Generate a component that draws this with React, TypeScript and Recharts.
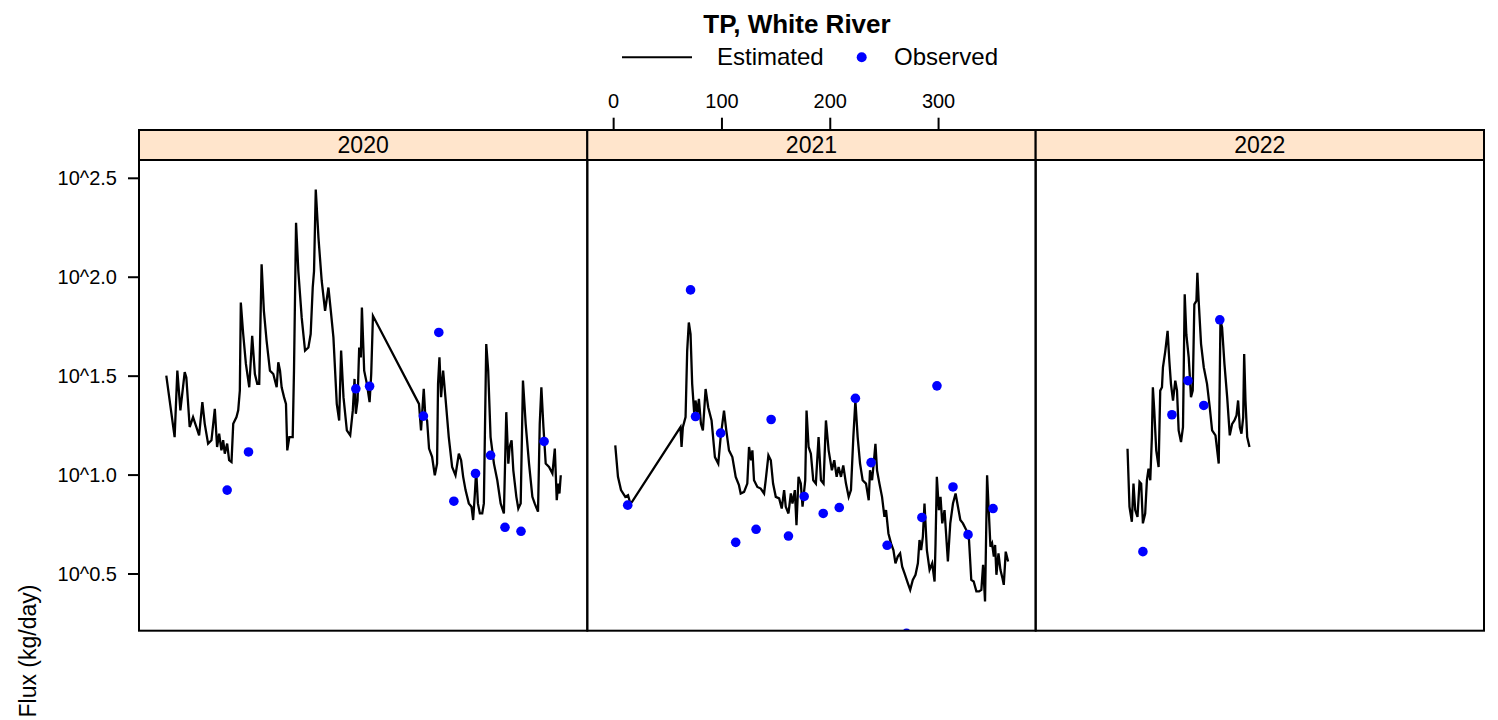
import React from 'react';
import { ComposedChart, Line, Scatter, XAxis, YAxis } from 'recharts';

// ---- data (day of year, log10 flux in kg/day) ----
const years = ['2020', '2021', '2022'];
const dayTicks = [0, 100, 200, 300];
const logTicks = [0.5, 1.0, 1.5, 2.0, 2.5];

const est2020: [number, number][] = [
  [0.6, 1.503], [8.3, 1.192], [10.8, 1.528], [13.6, 1.327], [17.6, 1.52], [19.1, 1.494], [22.2, 1.243],
  [25.3, 1.293], [28.4, 1.243], [30.9, 1.201], [33.9, 1.369], [36.1, 1.259], [39.2, 1.159], [42.3, 1.176],
  [45.4, 1.335], [47.5, 1.142], [49.4, 1.209], [51.5, 1.125], [53.1, 1.176], [54.6, 1.108], [56.8, 1.159],
  [58.6, 1.075], [60.8, 1.066], [62.4, 1.259], [65.4, 1.293], [67.0, 1.327], [68.5, 1.427], [69.4, 1.872],
  [71.6, 1.713], [74.1, 1.562], [77.2, 1.444], [79.9, 1.704], [82.4, 1.511], [84.6, 1.461], [86.4, 1.461],
  [88.6, 2.065], [90.7, 1.83], [93.2, 1.679], [96.3, 1.528], [99.4, 1.511], [102.5, 1.444], [104.0, 1.57],
  [105.6, 1.528], [107.1, 1.444], [109.3, 1.394], [111.1, 1.36], [112.3, 1.125], [114.2, 1.192], [117.3, 1.192],
  [118.5, 1.528], [120.4, 2.275], [122.5, 2.031], [125.6, 1.797], [128.7, 1.629], [131.8, 1.645], [133.9, 1.713],
  [135.8, 1.948], [137.0, 2.031], [138.6, 2.443], [141.1, 2.199], [144.1, 1.981], [147.2, 1.83], [150.3, 1.948],
  [152.5, 1.83], [154.9, 1.696], [158.0, 1.36], [160.2, 1.276], [162.0, 1.629], [164.2, 1.394], [167.3, 1.226],
  [170.4, 1.201], [172.8, 1.327], [174.4, 1.486], [175.6, 1.31], [177.2, 1.377], [178.7, 1.645], [180.2, 1.595],
  [181.2, 1.847], [183.3, 1.528], [185.8, 1.461], [188.3, 1.369], [189.8, 1.511], [191.4, 1.805], [233.9, 1.36],
  [235.8, 1.226], [238.3, 1.436], [239.8, 1.293], [241.4, 1.276], [243.2, 1.134], [246.0, 1.092], [248.5, 0.999],
  [250.6, 1.058], [251.5, 1.461], [252.8, 1.595], [254.3, 1.394], [256.2, 1.528], [258.3, 1.394], [261.4, 1.192],
  [264.5, 1.041], [267.6, 0.999], [270.7, 1.108], [272.8, 1.075], [274.7, 0.991], [276.9, 0.924], [279.9, 0.857],
  [282.4, 0.84], [283.9, 0.773], [285.5, 0.907], [286.7, 1.024], [288.3, 0.857], [290.1, 0.806], [292.3, 0.806],
  [293.8, 0.857], [296.0, 1.662], [297.8, 1.528], [300.0, 1.192], [303.1, 1.058], [306.2, 0.974], [309.3, 0.857],
  [312.3, 0.806], [314.5, 1.318], [316.4, 1.058], [317.6, 1.142], [319.4, 1.176], [321.0, 1.024], [323.8, 0.89],
  [325.6, 0.831], [327.8, 0.857], [329.9, 1.478], [332.4, 1.259], [335.5, 1.058], [338.6, 0.89], [340.7, 0.857],
  [343.8, 0.815], [345.4, 1.259], [346.9, 1.444], [348.8, 1.243], [350.9, 1.058], [354.0, 1.041], [357.1, 1.008],
  [359.3, 1.134], [361.1, 0.873], [362.4, 0.957], [363.6, 0.907], [364.8, 0.999],
];
const obs2020: [number, number][] = [
  [56.8, 0.924], [76.5, 1.117], [175.6, 1.436], [188.3, 1.449], [238.0, 1.298], [252.2, 1.721],
  [266.1, 0.868], [286.1, 1.008], [300.0, 1.1], [313.3, 0.736], [328.1, 0.716], [349.4, 1.17],
];

const est2021: [number, number][] = [
  [1.5, 1.15], [4.0, 0.991], [6.8, 0.924], [10.8, 0.89], [13.3, 0.898], [15.4, 0.856], [17.0, 0.865],
  [61.7, 1.242], [62.7, 1.142], [63.9, 1.242], [66.4, 1.293], [67.9, 1.628], [69.4, 1.771], [71.0, 1.712],
  [72.5, 1.461], [74.4, 1.31], [75.6, 1.377], [77.2, 1.31], [78.7, 1.385], [80.6, 1.259], [82.4, 1.226],
  [84.9, 1.435], [87.3, 1.343], [90.4, 1.276], [93.5, 1.091], [96.6, 1.058], [98.8, 1.192], [101.9, 1.326],
  [104.0, 1.226], [106.5, 1.125], [109.6, 1.091], [112.7, 0.991], [115.7, 0.949], [117.3, 0.907], [120.4, 0.915],
  [123.4, 0.957], [125.0, 1.142], [126.9, 1.075], [128.1, 1.125], [129.6, 0.974], [132.7, 0.94], [135.8, 0.932],
  [138.9, 0.907], [140.4, 0.974], [142.9, 1.1], [145.1, 1.075], [147.2, 0.957], [149.7, 0.89], [152.8, 0.882],
  [155.2, 0.831], [157.4, 0.924], [158.9, 0.84], [161.4, 0.806], [163.6, 0.907], [165.1, 0.856], [167.3, 0.924],
  [168.8, 0.747], [170.7, 0.991], [172.8, 0.957], [174.4, 0.84], [176.9, 0.974], [178.1, 1.326], [180.0, 1.142],
  [182.1, 1.108], [184.3, 0.974], [186.7, 0.957], [189.2, 1.192], [191.4, 0.974], [193.8, 0.957], [196.0, 1.276],
  [198.5, 1.125], [201.5, 1.024], [203.7, 1.075], [205.9, 0.991], [207.7, 1.041], [209.9, 0.991], [212.0, 1.049],
  [214.5, 0.957], [217.0, 0.89], [219.1, 0.924], [221.3, 1.192], [223.2, 1.377], [225.3, 1.192], [227.5, 1.058],
  [229.9, 0.974], [233.0, 0.957], [235.5, 0.873], [236.7, 1.024], [238.6, 0.974], [240.1, 1.058], [241.7, 1.158],
  [243.2, 1.024], [245.4, 0.957], [247.8, 0.89], [250.0, 0.789], [251.5, 0.823], [253.7, 0.705], [256.1, 0.655],
  [258.3, 0.621], [260.2, 0.554], [262.3, 0.588], [264.5, 0.604], [266.4, 0.537], [268.5, 0.504], [271.6, 0.454],
  [273.8, 0.42], [276.2, 0.47], [278.7, 0.496], [280.9, 0.554], [282.4, 0.672], [283.9, 0.621], [285.5, 0.689],
  [287.0, 0.856], [289.2, 0.621], [291.7, 0.521], [294.1, 0.554], [296.3, 0.462], [297.2, 0.655], [298.4, 0.991],
  [300.3, 0.823], [301.8, 0.89], [303.4, 0.756], [305.5, 0.823], [308.6, 0.563], [310.8, 0.756], [313.3, 0.856],
  [315.7, 0.907], [317.9, 0.84], [320.1, 0.773], [322.5, 0.756], [325.6, 0.722], [328.1, 0.672], [330.2, 0.47],
  [332.4, 0.462], [334.9, 0.412], [337.4, 0.412], [339.5, 0.42], [341.1, 0.546], [342.9, 0.361], [344.8, 0.999],
  [346.3, 0.823], [347.9, 0.638], [349.4, 0.655], [351.0, 0.588], [352.2, 0.647], [353.4, 0.496], [355.3, 0.604],
  [357.1, 0.521], [359.0, 0.479], [360.2, 0.445], [362.0, 0.613], [364.2, 0.563],
];
const obs2021: [number, number][] = [
  [13.0, 0.848], [71.0, 1.936], [75.6, 1.296], [98.8, 1.212], [112.7, 0.66], [131.5, 0.726], [145.4, 1.281],
  [161.4, 0.692], [175.9, 0.892], [193.5, 0.806], [208.3, 0.836], [223.2, 1.388], [237.7, 1.063], [252.5, 0.645],
  [270.4, 0.2], [284.6, 0.786], [298.5, 1.451], [313.3, 0.94], [327.2, 0.699], [350.3, 0.831],
];

const est2022: [number, number][] = [
  [59.9, 1.133], [61.7, 0.84], [63.9, 0.764], [65.4, 0.957], [67.0, 0.823], [69.1, 0.789], [71.0, 0.966],
  [72.5, 0.957], [74.1, 0.756], [76.2, 0.806], [77.8, 0.974], [79.3, 1.033], [80.9, 0.974], [82.4, 1.192],
  [83.3, 1.444], [84.6, 1.326], [86.4, 1.125], [88.6, 1.041], [90.1, 1.427], [91.7, 1.444], [92.6, 1.545],
  [94.8, 1.628], [96.9, 1.729], [98.5, 1.578], [100.0, 1.461], [101.9, 1.377], [104.0, 1.477], [105.6, 1.427],
  [107.1, 1.226], [109.3, 1.167], [111.1, 1.242], [112.7, 1.914], [114.2, 1.712], [116.4, 1.595], [118.5, 1.394],
  [120.1, 1.427], [121.6, 1.863], [123.5, 1.88], [124.4, 2.023], [125.6, 1.88], [127.8, 1.662], [130.3, 1.545],
  [133.3, 1.461], [135.8, 1.343], [138.0, 1.226], [141.1, 1.201], [144.1, 1.058], [145.7, 1.78], [147.2, 1.746],
  [149.4, 1.561], [151.9, 1.394], [154.3, 1.201], [156.5, 1.259], [158.6, 1.276], [160.5, 1.301], [162.0, 1.377],
  [163.6, 1.242], [165.1, 1.209], [166.7, 1.293], [167.6, 1.612], [168.8, 1.377], [170.4, 1.192], [172.5, 1.142],
];
const obs2022: [number, number][] = [
  [74.1, 0.613], [100.9, 1.305], [115.7, 1.477], [130.3, 1.352], [145.1, 1.785],
];

const estimated = [est2020, est2021, est2022];
const observed = [obs2020, obs2021, obs2022];

// ---- layout ----
const W = 1498;
const H = 720;
const PANEL_LEFT = [139, 587.3, 1035.7];
const PANEL_W = 448.3;
const STRIP_TOP = 130;
const PLOT_TOP = 160;
const PLOT_BOTTOM = 630.7;
const X_AXIS_H = 60;
const Y_AXIS_W = 139;
const X_DOMAIN: [number, number] = [-24.6, 389.3];
const Y_DOMAIN: [number, number] = [0.2135, 2.5925];
const FONT = '"Liberation Sans", Arial, Helvetica, sans-serif';

const toRows = (arr: [number, number][]) => arr.map(([day, log]) => ({ day, log }));

const Dot = (p: any) => <circle cx={p.cx} cy={p.cy} r={4.8} fill="#0000FF" />;

function Panel({ i }: { i: number }) {
  const first = i === 0;
  const left = first ? 0 : PANEL_LEFT[i];
  const width = first ? Y_AXIS_W + PANEL_W : PANEL_W;
  return (
    <div style={{ position: 'absolute', left, top: 0 }}>
      <ComposedChart
        width={width}
        height={H}
        margin={{ top: PLOT_TOP - X_AXIS_H, right: 0, bottom: H - PLOT_BOTTOM, left: 0 }}
      >
        <XAxis
          type="number"
          dataKey="day"
          orientation="top"
          domain={X_DOMAIN}
          allowDataOverflow
          ticks={dayTicks}
          interval={0}
          height={X_AXIS_H}
          axisLine={false}
          tickSize={42.3}
          tickMargin={10}
          tickLine={{ stroke: '#000', strokeWidth: 2 }}
          tick={i === 1 ? { fontSize: 20, fill: '#000', fontFamily: FONT } : false}
        />
        <YAxis
          type="number"
          dataKey="log"
          domain={Y_DOMAIN}
          allowDataOverflow
          ticks={logTicks}
          interval={0}
          hide={!first}
          width={Y_AXIS_W}
          axisLine={false}
          tickSize={11}
          tickMargin={11}
          tickLine={{ stroke: '#000', strokeWidth: 2 }}
          tick={{ fontSize: 20, fill: '#000', fontFamily: FONT }}
          tickFormatter={(v: number) => `10^${v.toFixed(1)}`}
        />
        <Line
          data={toRows(estimated[i])}
          dataKey="log"
          type="linear"
          stroke="#000"
          strokeWidth={2.3}
          dot={false}
          activeDot={false}
          isAnimationActive={false}
        />
        <Scatter
          data={toRows(observed[i])}
          dataKey="log"
          shape={Dot}
          isAnimationActive={false}
        />
      </ComposedChart>
    </div>
  );
}

export default function App() {
  return (
    <div style={{ position: 'absolute', left: 0, top: 0, width: W, height: H, background: '#fff', fontFamily: FONT }}>
      {years.map((_, i) => (
        <Panel key={i} i={i} />
      ))}
      <svg
        width={W}
        height={H}
        style={{ position: 'absolute', left: 0, top: 0, pointerEvents: 'none' }}
        fontFamily={FONT}
      >
        <text x={797} y={33} textAnchor="middle" fontSize={26} fontWeight="bold" fill="#000">
          TP, White River
        </text>
        <line x1={622} x2={692} y1={57.3} y2={57.3} stroke="#000" strokeWidth={2} />
        <text x={717} y={65} fontSize={24} fill="#000">Estimated</text>
        <circle cx={861.7} cy={57.3} r={5} fill="#0000FF" />
        <text x={894} y={65} fontSize={24} fill="#000">Observed</text>
        {years.map((y, i) => (
          <g key={y}>
            <rect
              x={PANEL_LEFT[i]}
              y={STRIP_TOP}
              width={PANEL_W}
              height={PLOT_TOP - STRIP_TOP}
              fill="#FFE5CC"
              stroke="#000"
              strokeWidth={2}
            />
            <text x={PANEL_LEFT[i] + PANEL_W / 2} y={153.3} textAnchor="middle" fontSize={23} fill="#000">
              {y}
            </text>
            <rect
              x={PANEL_LEFT[i]}
              y={PLOT_TOP}
              width={PANEL_W}
              height={PLOT_BOTTOM - PLOT_TOP}
              fill="none"
              stroke="#000"
              strokeWidth={2}
            />
          </g>
        ))}
        <text
          x={36}
          y={651}
          transform="rotate(-90 36 651)"
          textAnchor="middle"
          fontSize={23}
          fill="#000"
        >
          Flux (kg/day)
        </text>
      </svg>
    </div>
  );
}
